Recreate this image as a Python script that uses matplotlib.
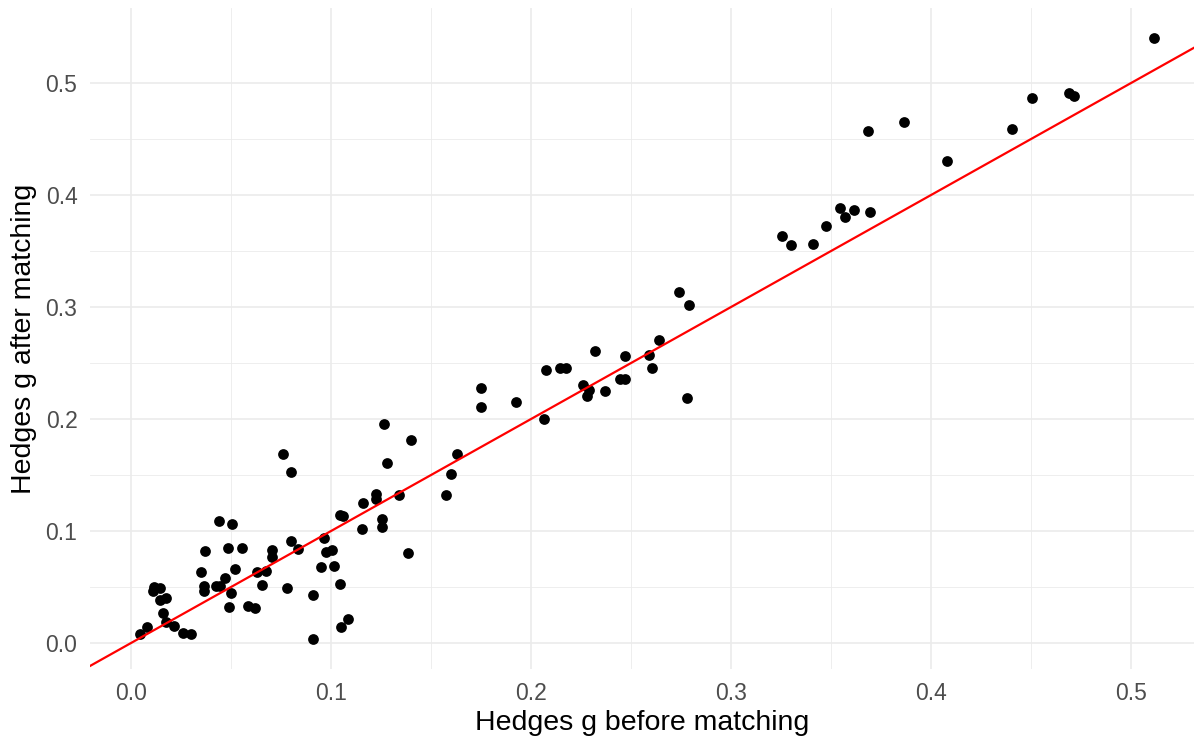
import numpy as np
import matplotlib
matplotlib.use('Agg')
import matplotlib.pyplot as plt

# Hedges g values
g_before = [0.0045, 0.008, 0.0115, 0.0145, 0.011, 0.0145, 0.0175, 0.016, 0.0175, 0.0215,
            0.026, 0.030, 0.035, 0.037, 0.0365, 0.0365, 0.044, 0.0425, 0.0445, 0.047,
            0.0485, 0.0505, 0.049, 0.050, 0.052, 0.0555, 0.0585, 0.062, 0.063, 0.0655,
            0.0675, 0.0705, 0.0705, 0.076, 0.078, 0.080, 0.080, 0.0835, 0.091, 0.091,
            0.095, 0.0965, 0.0975, 0.1005, 0.1015, 0.1045, 0.1045, 0.106, 0.105, 0.1085,
            0.1155, 0.116, 0.1225, 0.1225, 0.1255, 0.1255, 0.1265, 0.128, 0.134, 0.1385,
            0.140, 0.1575, 0.160, 0.163, 0.175, 0.175, 0.1925, 0.2065, 0.2075, 0.2145,
            0.2175, 0.226, 0.228, 0.229, 0.232, 0.237, 0.2445, 0.247, 0.247, 0.259,
            0.2605, 0.264, 0.274, 0.279, 0.278, 0.3255, 0.330, 0.341, 0.3475, 0.3545,
            0.357, 0.3615, 0.3695, 0.3685, 0.3865, 0.408, 0.4405, 0.4505, 0.469, 0.4715,
            0.5115]
g_after = [0.008, 0.014, 0.050, 0.049, 0.046, 0.038, 0.040, 0.027, 0.019, 0.015,
           0.009, 0.008, 0.063, 0.082, 0.051, 0.046, 0.109, 0.051, 0.051, 0.058,
           0.085, 0.106, 0.032, 0.045, 0.066, 0.085, 0.033, 0.031, 0.063, 0.052,
           0.064, 0.083, 0.077, 0.169, 0.049, 0.153, 0.091, 0.084, 0.0036, 0.043,
           0.068, 0.094, 0.081, 0.083, 0.069, 0.053, 0.114, 0.113, 0.014, 0.021,
           0.102, 0.125, 0.133, 0.129, 0.111, 0.104, 0.196, 0.161, 0.132, 0.080,
           0.181, 0.132, 0.151, 0.169, 0.228, 0.211, 0.215, 0.200, 0.244, 0.246,
           0.246, 0.230, 0.221, 0.226, 0.261, 0.225, 0.236, 0.236, 0.256, 0.257,
           0.246, 0.271, 0.313, 0.302, 0.219, 0.363, 0.355, 0.356, 0.372, 0.388,
           0.380, 0.387, 0.385, 0.457, 0.465, 0.430, 0.459, 0.487, 0.491, 0.488,
           0.540]

ticks = [0.0, 0.1, 0.2, 0.3, 0.4, 0.5]
minor = [0.05, 0.15, 0.25, 0.35, 0.45]

plt.rcParams['font.family'] = ['Liberation Sans', 'DejaVu Sans']

fig = plt.figure(figsize=(11.94, 7.41), dpi=100)
ax = fig.add_axes([90 / 1194, 72 / 741, 1104 / 1194, 661 / 741])

xlim = (-0.0205, 0.5315)
ylim = (-0.0232, 0.567)

for t in minor:
    ax.axvline(t, color='#EBEBEB', lw=0.6, zorder=0)
    ax.axhline(t, color='#EBEBEB', lw=0.6, zorder=0)
for t in ticks:
    ax.axvline(t, color='#EBEBEB', lw=1.2, zorder=0)
    ax.axhline(t, color='#EBEBEB', lw=1.2, zorder=0)

ax.scatter(g_before, g_after, s=60, color='black', linewidths=0, zorder=2)
ax.plot(xlim, xlim, color='red', lw=1.6, zorder=3)

ax.set_xlim(xlim)
ax.set_ylim(ylim)
ax.set_xticks(ticks)
ax.set_yticks(ticks)
ax.set_xticklabels([f'{t:.1f}' for t in ticks])
ax.set_yticklabels([f'{t:.1f}' for t in ticks])
ax.tick_params(length=0, labelsize=16.5, colors='#4D4D4D')
ax.tick_params(axis='x', pad=9)
ax.tick_params(axis='y', pad=9)
for s in ax.spines.values():
    s.set_visible(False)

ax.set_xlabel('Hedges g before matching', fontsize=20.5, labelpad=4)
ax.set_ylabel('Hedges g after matching', fontsize=20.5, labelpad=6)

fig.savefig('out.png', dpi=100)
